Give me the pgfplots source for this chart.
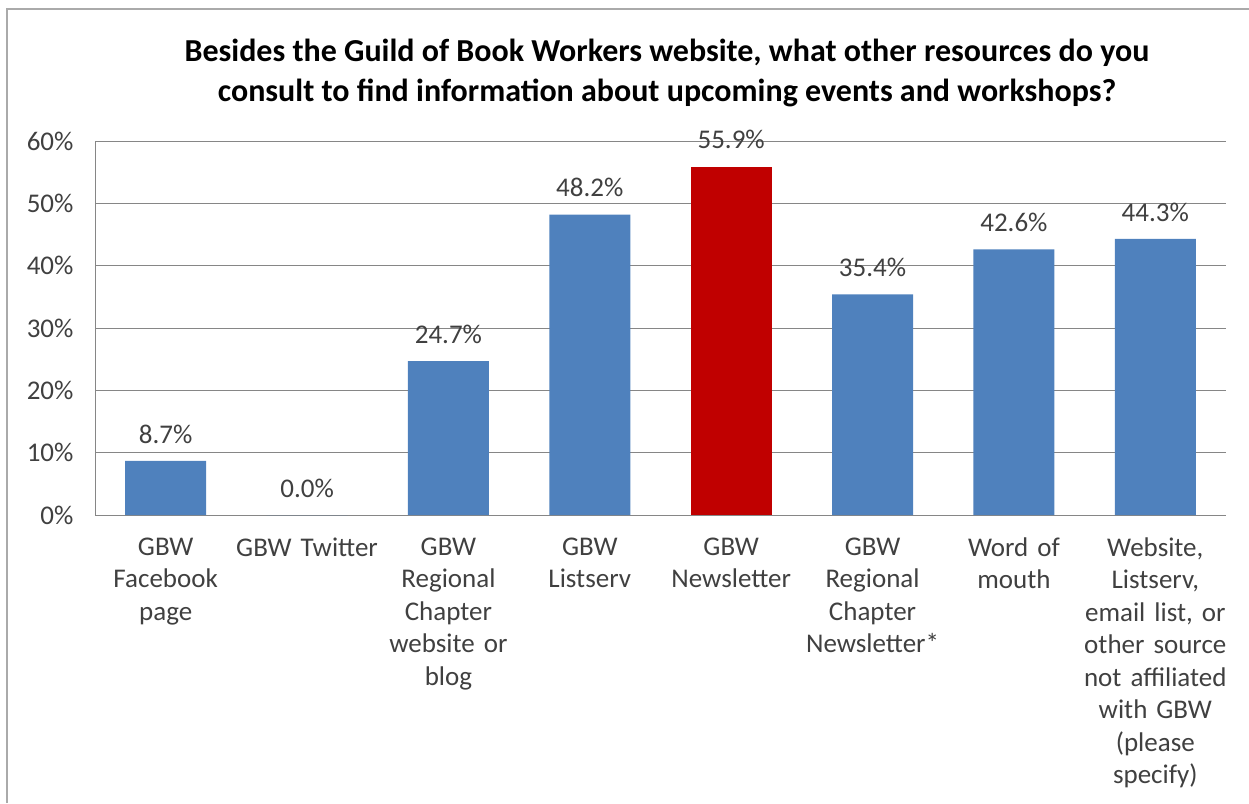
\documentclass[border=0pt]{standalone}
\usepackage{pgfplots}
\pgfplotsset{compat=1.18}
\usepackage{fontspec}
\setmainfont{Carlito}
\definecolor{barblue}{HTML}{4F81BD}
\definecolor{barred}{HTML}{C00000}
\definecolor{gridgray}{HTML}{868686}
\definecolor{txtgray}{HTML}{404040}
\begin{document}
\begin{tikzpicture}[x=1pt,y=1pt]
\useasboundingbox (0,0) rectangle (1249,803);
\draw[gridgray!70,line width=1.5pt] (7,0) -- (7,794) -- (1249,794);
\node[align=center,font=\fontsize{32}{40}\selectfont\bfseries] at (667,730)
  {Besides the Guild of Book Workers website, what other resources do you\\consult to find information about upcoming events and workshops?};
\begin{axis}[
  at={(95pt,288pt)}, anchor=south west,
  scale only axis, width=1131pt, height=374pt,
  xmin=-0.5, xmax=7.5, ymin=0, ymax=60,
  ytick={0,10,...,60},
  yticklabels={0\%,10\%,20\%,30\%,40\%,50\%,60\%},
  xtick={0,...,7},
  xticklabels={{GBW\\Facebook\\page}, {GBW Twitter}, {GBW\\Regional\\Chapter\\website or\\blog}, {GBW\\Listserv}, {GBW\\Newsletter}, {GBW\\Regional\\Chapter\\Newsletter*}, {Word of\\mouth}, {Website,\\Listserv,\\email list, or\\other source\\not affiliated\\with GBW\\(please\\specify)}},
  xticklabel style={text width=145pt, align=center, anchor=north, yshift=-19pt,
    font=\fontsize{27}{32.5}\selectfont, text=txtgray},
  yticklabel style={font=\fontsize{27}{31}\selectfont, text=txtgray, xshift=-18pt},
  major tick length=0pt,
  axis lines*=left,
  axis line style={gridgray, line width=1pt},
  ymajorgrids, grid style={gridgray, line width=1pt},
  ybar, bar width=81pt, bar shift=0pt,
  nodes near coords={\pgfmathprintnumber[fixed,fixed zerofill,precision=1]{\pgfplotspointmeta}\%},
  every node near coord/.append style={font=\fontsize{27}{31}\selectfont, text=txtgray, anchor=south, yshift=14pt},
  /pgf/number format/assume math mode=true,
  clip=false,
]
\addplot[fill=barblue, draw=none] coordinates {(0,8.7) (1,0.0) (2,24.7) (3,48.2) (5,35.4) (6,42.6) (7,44.3)};
\addplot[fill=barred, draw=none] coordinates {(4,55.9)};
\end{axis}
\end{tikzpicture}
\end{document}
